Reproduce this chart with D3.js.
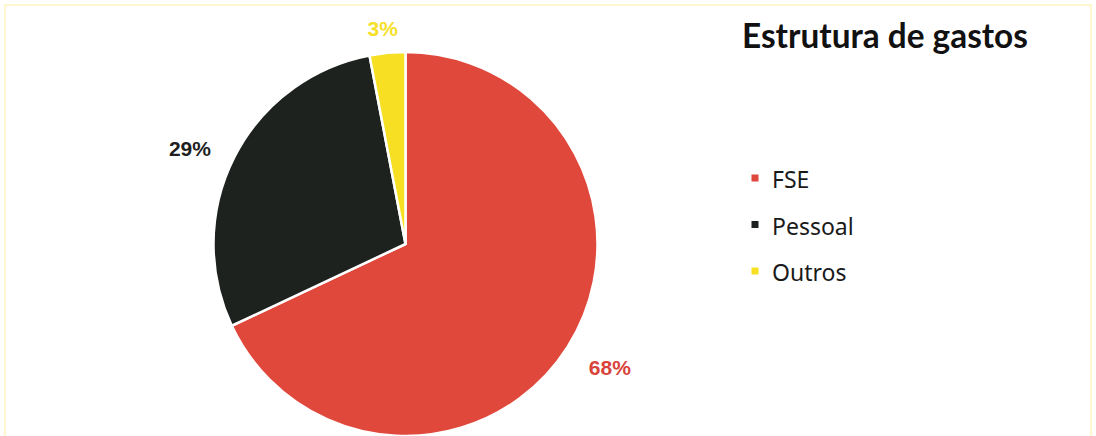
<!DOCTYPE html>
<html>
<head>
<meta charset="utf-8">
<script src="https://cdn.jsdelivr.net/npm/d3@7"></script>
<style>
  html, body { margin: 0; padding: 0; background: #ffffff; }
  svg { display: block; }
</style>
</head>
<body>
<svg id="chart" width="1096" height="436"></svg>
<script>
const categories = ["FSE", "Pessoal", "Outros"];
const values = [68, 29, 3];
const labels = ["68%", "29%", "3%"];
const colors = ["#e0483c", "#1d221e", "#f7e024"];
const labelColors = ["#d9443a", "#1f1f1f", "#f5df2a"];
const title = "Estrutura de gastos";

const svg = d3.select("#chart");
const W = 1096, H = 436;

// faint frame like the scanned original
svg.append("rect")
  .attr("x", 5).attr("y", 5).attr("width", W - 10).attr("height", H + 20)
  .attr("fill", "none").attr("stroke", "#fdf6cf").attr("stroke-width", 2);

const cx = 405.5, cy = 244, R = 192;
const data = categories.map((c, i) => ({ name: c, value: values[i], label: labels[i], color: colors[i], lc: labelColors[i] }));

const pie = d3.pie().value(d => d.value).sort(null);
const arcs = pie(data);
const arc = d3.arc().innerRadius(0).outerRadius(R);

const g = svg.append("g").attr("transform", `translate(${cx},${cy})`);
g.selectAll("path.slice").data(arcs).join("path")
  .attr("class", "slice")
  .attr("d", arc)
  .attr("fill", d => d.data.color)
  .attr("stroke", "#ffffff")
  .attr("stroke-width", 2.5)
  .attr("stroke-linejoin", "round");

// outside labels
const pad = 22, halfW = 28, halfH = 7.5, shiftY = 5;
g.selectAll("text.lbl").data(arcs).join("text")
  .attr("class", "lbl")
  .attr("x", d => {
    const a = (d.startAngle + d.endAngle) / 2;
    const ux = Math.sin(a);
    return ux * (R + pad) + ux * halfW;
  })
  .attr("y", d => {
    const a = (d.startAngle + d.endAngle) / 2;
    const uy = -Math.cos(a);
    return uy * (R + pad) + uy * halfH + shiftY;
  })
  .attr("text-anchor", "middle")
  .attr("dominant-baseline", "central")
  .attr("font-family", "'Liberation Sans', Arial, sans-serif")
  .attr("font-weight", "bold")
  .attr("font-size", 21)
  .attr("fill", d => d.data.lc)
  .text(d => d.data.label);

// title
const t = svg.append("text")
  .attr("x", 742).attr("y", 48)
  .attr("font-family", "Lato, 'Noto Sans', sans-serif")
  .attr("font-weight", "bold")
  .attr("font-size", 29)
  .attr("fill", "#111111")
  .text(title);
const tw = t.node().getComputedTextLength();
t.attr("font-size", 29 * 286 / tw);

// legend
const legend = svg.append("g").attr("transform", "translate(755,178)");
const rowY = d3.scalePoint().domain(categories).range([0, 93]);
const items = legend.selectAll("g.item").data(data).join("g")
  .attr("class", "item")
  .attr("transform", d => `translate(0,${rowY(d.name)})`);
items.append("rect")
  .attr("x", -3.5).attr("y", -3.5).attr("width", 7).attr("height", 7)
  .attr("fill", d => d.color);
items.append("text")
  .attr("x", 17).attr("y", 1)
  .attr("dominant-baseline", "central")
  .attr("font-family", "'Noto Sans', sans-serif")
  .attr("font-size", 23)
  .attr("fill", "#1a1a1a")
  .text(d => d.name);
</script>
</body>
</html>
